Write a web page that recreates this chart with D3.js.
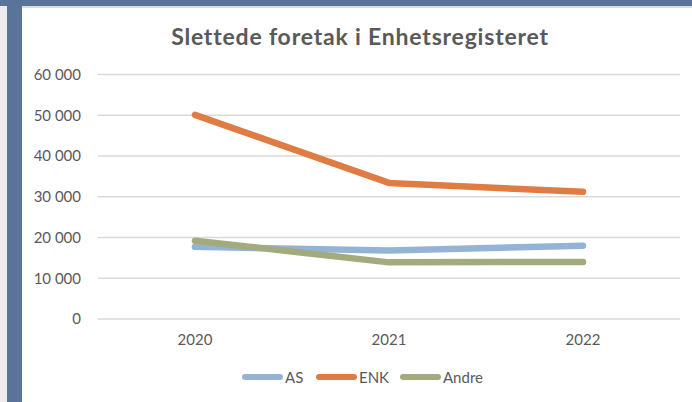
<!DOCTYPE html>
<html><head><meta charset="utf-8">
<script src="https://cdn.jsdelivr.net/npm/d3@7"></script>
<style>
html,body{margin:0;padding:0;background:#fff;}
svg{display:block;font-family:Lato,"Open Sans",sans-serif;}
</style></head>
<body>
<script>
const categories = ["2020","2021","2022"];
const seriesNames = ["AS","ENK","Andre"];
const asValues = [17700, 16800, 18000];
const enkValues = [50100, 33400, 31200];
const andreValues = [19200, 13900, 14000];
const yTicks = [0,10000,20000,30000,40000,50000,60000];
const colors = ["#95b3d7","#df7c43","#a2ab7e"];
const title = "Slettede foretak i Enhetsregisteret";

const W=692,H=402;
const svg=d3.select("body").append("svg").attr("width",W).attr("height",H);
// frame
svg.append("rect").attr("x",0).attr("y",0).attr("width",W).attr("height",H).attr("fill","#fff");
svg.append("rect").attr("x",0).attr("y",0).attr("width",7).attr("height",H).attr("fill","#ececec");
svg.append("rect").attr("x",7).attr("y",0).attr("width",15).attr("height",H).attr("fill","#5a7499");
svg.append("rect").attr("x",0).attr("y",0).attr("width",W).attr("height",6).attr("fill","#5a7499");
svg.append("rect").attr("x",22).attr("y",6).attr("width",W-22).attr("height",2).attr("fill","#dcdcdc");

const x=d3.scaleBand().domain(categories).range([98,680]);
const y=d3.scaleLinear().domain([0,60000]).range([319,74.5]);

// grid
svg.append("g").selectAll("line").data(yTicks).join("line")
 .attr("x1",98).attr("x2",680).attr("y1",d=>y(d)).attr("y2",d=>y(d))
 .attr("stroke","#d9d9d9").attr("stroke-width",1.3);

const yAxis=svg.append("g").attr("transform","translate(98,0)")
 .call(d3.axisLeft(y).tickValues(yTicks).tickFormat(d=>d3.format(",")(d).replace(/,/g," ")).tickSize(0).tickPadding(17));
yAxis.select(".domain").remove();
yAxis.selectAll("text").attr("fill","#595959").style("font-size","15px").style("font-family","Lato,sans-serif");

const xAxis=svg.append("g").attr("transform","translate(0,319)")
 .call(d3.axisBottom(x).tickSize(0).tickPadding(15));
xAxis.select(".domain").remove();
xAxis.selectAll("text").attr("fill","#595959").style("font-size","15px").style("font-family","Lato,sans-serif");

const data=[asValues,enkValues,andreValues];
const line=d3.line().x((d,i)=>x(categories[i])+x.bandwidth()/2).y(d=>y(d));
data.forEach((vals,k)=>{
  svg.append("path").datum(vals).attr("d",line).attr("fill","none")
   .attr("stroke",colors[k]).attr("stroke-width",6.5)
   .attr("stroke-linecap","round").attr("stroke-linejoin","round");
});

// title
svg.append("text").attr("x",360).attr("y",45).attr("text-anchor","middle")
 .attr("fill","#595959").style("font-size","23px").style("font-weight","bold")
 .style("letter-spacing","0.8px").text(title);

// legend
const legX=[242,316,400];
seriesNames.forEach((n,k)=>{
  const g=svg.append("g");
  g.append("line").attr("x1",legX[k]+3).attr("x2",legX[k]+38).attr("y1",377).attr("y2",377)
   .attr("stroke",colors[k]).attr("stroke-width",6).attr("stroke-linecap","round");
  g.append("text").attr("x",legX[k]+43).attr("y",382.5).attr("fill","#595959")
   .style("font-size","15px").text(n);
});
</script>
</body></html>
